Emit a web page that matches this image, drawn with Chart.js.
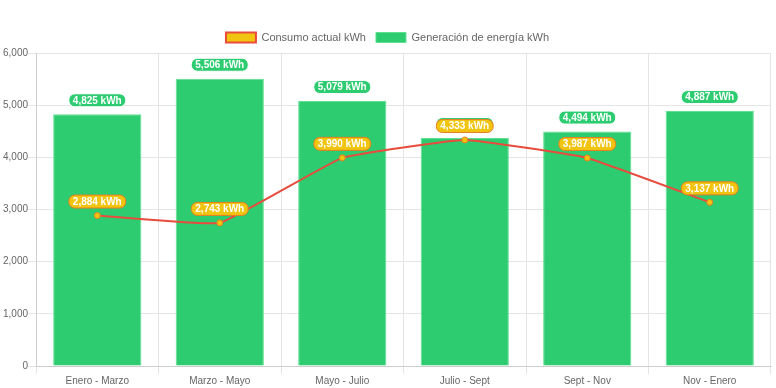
<!DOCTYPE html>
<html>
<head>
<meta charset="utf-8">
<script src="https://cdn.jsdelivr.net/npm/chart.js@4/dist/chart.umd.min.js"></script>
<style>
  html, body { margin: 0; padding: 0; background: #fff; }
  #wrap { width: 776px; height: 388px; }
</style>
</head>
<body>
<div id="wrap"><canvas id="chart"></canvas></div>
<script>
const periodos = ['Enero - Marzo', 'Marzo - Mayo', 'Mayo - Julio', 'Julio - Sept', 'Sept - Nov', 'Nov - Enero'];
const consumo = [2884, 2743, 3990, 4333, 3987, 3137];
const generacion = [4825, 5506, 5079, 4370, 4494, 4887];

// etiquetas tipo "pill" encima de barras y puntos
const etiquetas = {
  id: 'etiquetas',
  afterDatasetsDraw(chart) {
    const ctx = chart.ctx;
    ctx.save();
    ctx.font = 'bold 10px "Liberation Sans", Arial, sans-serif';
    ctx.textAlign = 'center';
    ctx.textBaseline = 'middle';
    // dibujar primero las barras, luego la linea encima
    [1, 0].forEach(di => {
      const ds = chart.data.datasets[di];
      const meta = chart.getDatasetMeta(di);
      meta.data.forEach((el, i) => {
        const txt = ds.data[i].toLocaleString('en-US') + ' kWh';
        const w = ctx.measureText(txt).width + 8;
        const h = 13;
        const x = el.x;
        const y = el.y - 14;
        ctx.beginPath();
        ctx.roundRect(x - w / 2, y - h / 2, w, h, 6);
        ctx.fillStyle = ds.labelBg;
        ctx.fill();
        ctx.lineWidth = 1;
        ctx.strokeStyle = ds.labelBorder;
        ctx.stroke();
        ctx.fillStyle = '#fff';
        ctx.fillText(txt, x, y + 0.5);
      });
    });
    ctx.restore();
  }
};

Chart.defaults.font.family = '"Liberation Sans", Arial, sans-serif';
Chart.defaults.font.size = 10;
Chart.defaults.color = '#666';

new Chart(document.getElementById('chart'), {
  type: 'bar',
  data: {
    labels: periodos,
    datasets: [
      {
        type: 'line',
        label: 'Consumo actual kWh',
        data: consumo,
        borderColor: '#e74c3c',
        backgroundColor: '#f1c40f',
        borderWidth: 2,
        tension: 0.1,
        pointRadius: 3,
        pointBackgroundColor: '#f1c40f',
        pointBorderColor: '#e67e22',
        pointBorderWidth: 1,
        labelBg: '#f1c40f',
        labelBorder: '#e67e22',
        order: 0
      },
      {
        type: 'bar',
        label: 'Generación de energía kWh',
        data: generacion,
        backgroundColor: '#2ecc71',
        borderColor: '#5ee08f',
        borderWidth: 1,
        labelBg: '#2ecc71',
        labelBorder: '#ffffff',
        order: 1
      }
    ]
  },
  options: {
    responsive: true,
    maintainAspectRatio: false,
    animation: false,
    layout: { padding: { top: 22, right: 4, bottom: 0, left: 3 } },
    plugins: {
      legend: {
        labels: { boxWidth: 30, boxHeight: 10, padding: 10, font: { size: 11 } }
      },
      tooltip: { enabled: false }
    },
    scales: {
      x: {
        ticks: { padding: 1 },
        grid: { color: '#e5e5e5' }
      },
      y: {
        min: 0,
        max: 6000,
        ticks: { stepSize: 1000, padding: 0 },
        grid: { color: '#e5e5e5' }
      }
    }
  },
  plugins: [etiquetas]
});
</script>
</body>
</html>
